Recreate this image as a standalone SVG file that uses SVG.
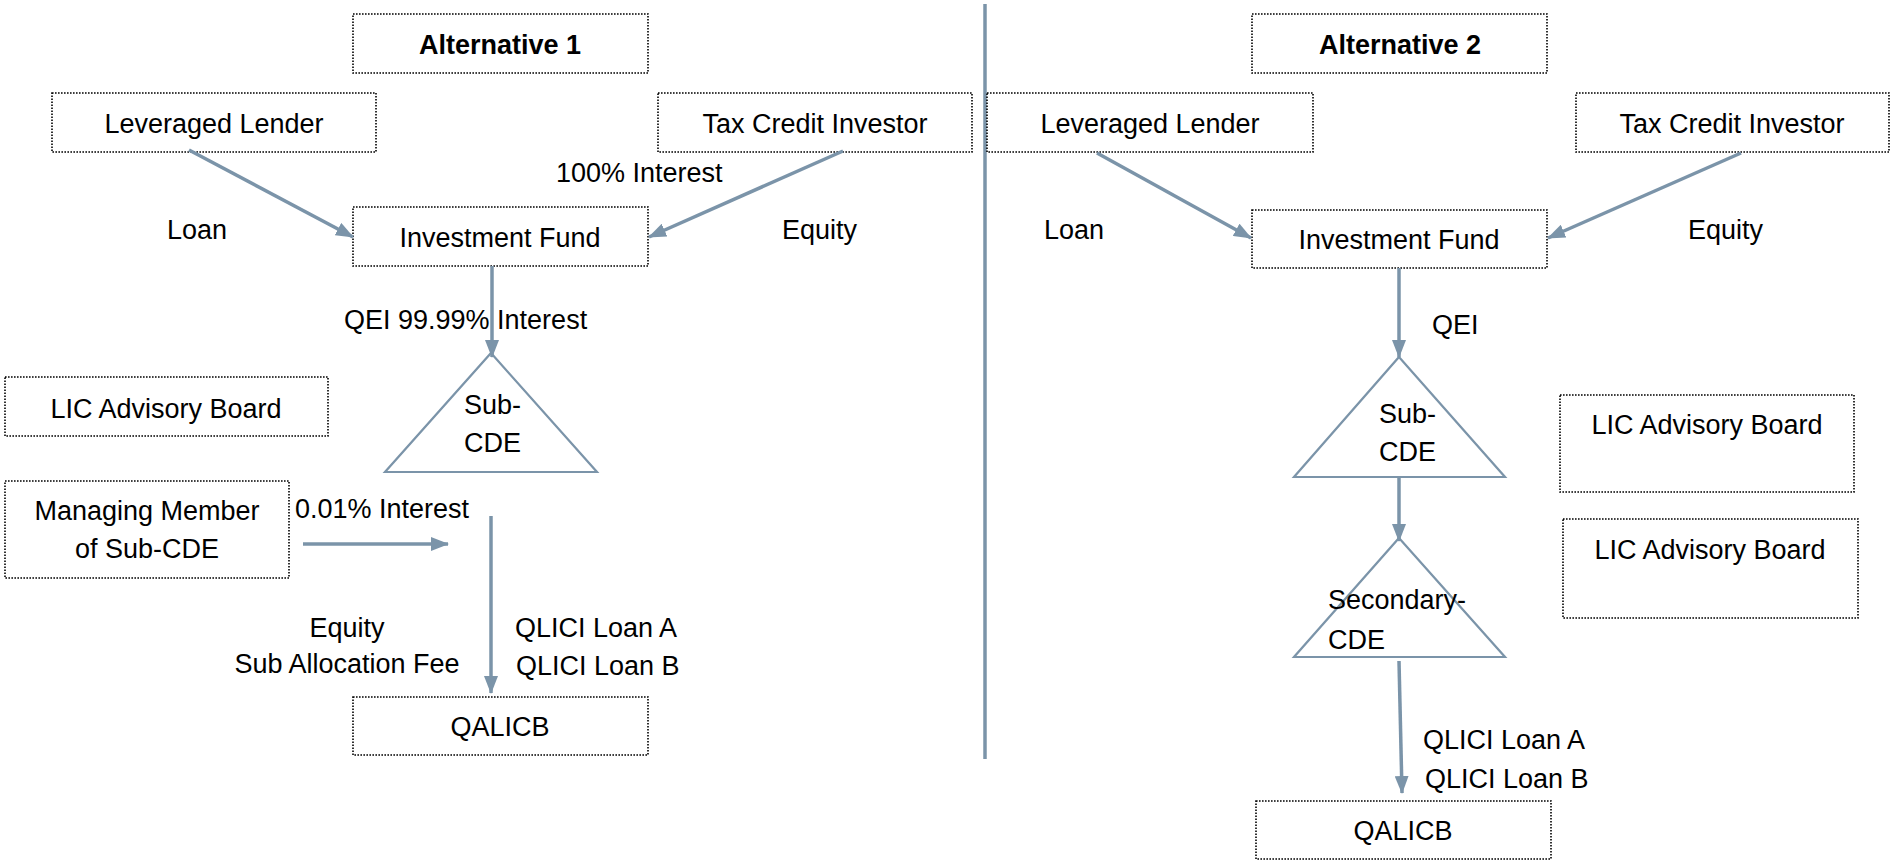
<svg xmlns="http://www.w3.org/2000/svg" width="1891" height="861" viewBox="0 0 1891 861">
<style>
.box{fill:#fff;stroke:#000;stroke-width:1.6;stroke-dasharray:1.6 1.4}
.t{font-family:"Liberation Sans",Arial,sans-serif;font-size:27px;fill:#000}
.b{font-weight:bold}
.m{text-anchor:middle}
.c{stroke:#7b94a9;stroke-width:3.5;fill:none}
.tri{fill:#fff;stroke:#7b94a9;stroke-width:2.2}
</style>
<defs>
<marker id="ah" markerUnits="userSpaceOnUse" markerWidth="18" markerHeight="14" refX="17" refY="7" orient="auto">
<path d="M0,0 L18,7 L0,14 z" fill="#7b94a9"/>
</marker>
</defs>
<rect width="1891" height="861" fill="#fff"/>

<g id="separator"><line x1="985" y1="4" x2="985" y2="759" class="c" stroke-width="3"/></g>

<!-- Left: Alternative 1 -->
<g id="alt1"><rect class="box" x="353" y="14" width="295" height="59"/><text class="t b m" x="500" y="54">Alternative 1</text></g>
<g id="lev1"><rect class="box" x="52" y="93" width="324" height="59"/><text class="t m" x="214" y="133">Leveraged Lender</text></g>
<g id="tci1"><rect class="box" x="658" y="93" width="314" height="59"/><text class="t m" x="815" y="133">Tax Credit Investor</text></g>
<g id="fund1"><rect class="box" x="353" y="207" width="295" height="59"/><text class="t m" x="500" y="247">Investment Fund</text></g>
<g id="subcde1"><polygon class="tri" points="491,353 597,472 385,472"/><text class="t" x="464" y="414">Sub-</text><text class="t" x="464" y="452">CDE</text></g>
<g id="lic1"><rect class="box" x="5" y="377" width="323" height="59"/><text class="t m" x="166" y="418">LIC Advisory Board</text></g>
<g id="mm1"><rect class="box" x="5" y="481" width="284" height="97"/><text class="t m" x="147" y="520">Managing Member</text><text class="t m" x="147" y="558">of Sub-CDE</text></g>
<g id="qalicb1"><rect class="box" x="353" y="697" width="295" height="58"/><text class="t m" x="500" y="736">QALICB</text></g>

<!-- Right: Alternative 2 -->
<g id="alt2"><rect class="box" x="1252" y="14" width="295" height="59"/><text class="t b m" x="1400" y="54">Alternative 2</text></g>
<g id="lev2"><rect class="box" x="987" y="93" width="326" height="59"/><text class="t m" x="1150" y="133">Leveraged Lender</text></g>
<g id="tci2"><rect class="box" x="1576" y="93" width="313" height="59"/><text class="t m" x="1732" y="133">Tax Credit Investor</text></g>
<g id="fund2"><rect class="box" x="1252" y="210" width="295" height="58"/><text class="t m" x="1399" y="249">Investment Fund</text></g>
<g id="subcde2"><polygon class="tri" points="1399,357 1505,477 1294,477"/><text class="t" x="1379" y="423">Sub-</text><text class="t" x="1379" y="461">CDE</text></g>
<g id="seccde2"><polygon class="tri" points="1399,538 1505,657 1294,657"/><text class="t" x="1328" y="609">Secondary-</text><text class="t" x="1328" y="649">CDE</text></g>
<g id="lic2a"><rect class="box" x="1560" y="395" width="294" height="97"/><text class="t m" x="1707" y="434">LIC Advisory Board</text></g>
<g id="lic2b"><rect class="box" x="1563" y="519" width="295" height="99"/><text class="t m" x="1710" y="559">LIC Advisory Board</text></g>
<g id="qalicb2"><rect class="box" x="1256" y="801" width="295" height="58"/><text class="t m" x="1403" y="840">QALICB</text></g>

<g id="connectors">
<line class="c" x1="189" y1="150" x2="353" y2="237" marker-end="url(#ah)"/>
<line class="c" x1="843" y1="151" x2="649" y2="237" marker-end="url(#ah)"/>
<line class="c" x1="492" y1="266" x2="492" y2="357" marker-end="url(#ah)"/>
<line class="c" x1="303" y1="544" x2="448" y2="544" stroke-width="5" marker-end="url(#ah)"/>
<line class="c" x1="491" y1="516" x2="491" y2="693" marker-end="url(#ah)"/>
<line class="c" x1="1097" y1="153" x2="1251" y2="238" marker-end="url(#ah)"/>
<line class="c" x1="1741" y1="153" x2="1548" y2="238" marker-end="url(#ah)"/>
<line class="c" x1="1399" y1="268" x2="1399" y2="357" marker-end="url(#ah)"/>
<line class="c" x1="1399" y1="476" x2="1399" y2="541" marker-end="url(#ah)"/>
<line class="c" x1="1399" y1="661" x2="1402" y2="793" marker-end="url(#ah)"/>
</g>

<g id="labels">
<text class="t" x="556" y="182">100% Interest</text>
<text class="t" x="167" y="239">Loan</text>
<text class="t" x="782" y="239">Equity</text>
<text class="t" x="344" y="329">QEI 99.99% Interest</text>
<text class="t" x="295" y="518">0.01% Interest</text>
<text class="t m" x="347" y="637">Equity</text>
<text class="t m" x="347" y="673">Sub Allocation Fee</text>
<text class="t" x="515" y="637">QLICI Loan A</text>
<text class="t" x="516" y="675">QLICI Loan B</text>
<text class="t" x="1044" y="239">Loan</text>
<text class="t" x="1688" y="239">Equity</text>
<text class="t" x="1432" y="334">QEI</text>
<text class="t" x="1423" y="749">QLICI Loan A</text>
<text class="t" x="1425" y="788">QLICI Loan B</text>
</g>
</svg>
